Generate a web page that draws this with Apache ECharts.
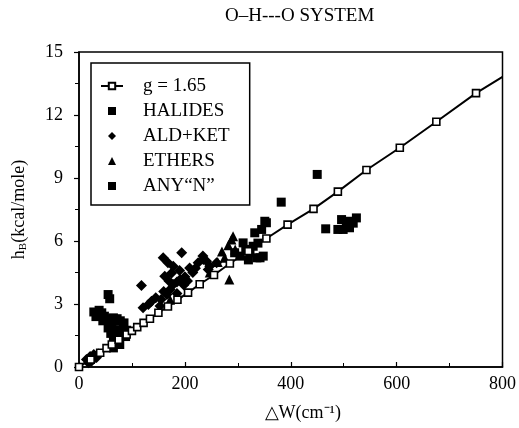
<!DOCTYPE html>
<html>
<head>
<meta charset="utf-8">
<script src="https://cdn.jsdelivr.net/npm/echarts@6/dist/echarts.min.js"></script>
<style>
html,body{margin:0;padding:0;background:#fff;}
#chart{width:519px;height:428px;}
</style>
</head>
<body>
<div id="chart"></div>
<script>
// g = 1.65 curve (open squares)
var fitX = [0, 22, 40, 52, 62, 75, 90, 100, 110, 122, 134, 150, 168, 186, 206, 228, 255, 285, 320, 354, 394, 443, 489, 543, 606, 675, 750, 800];
var fitY = [0, 0.35, 0.68, 0.9, 1.07, 1.3, 1.55, 1.72, 1.9, 2.1, 2.3, 2.58, 2.88, 3.2, 3.54, 3.94, 4.38, 4.93, 5.52, 6.12, 6.78, 7.53, 8.35, 9.38, 10.44, 11.68, 13.04, 13.82];
var fitMarked = [1,1,1,1,1,1,1,1,1,1,1,1,1,1,1,1,1,1,1,1,1,1,1,1,1,1,1,0];

var halidesX = [55, 58, 28, 35, 43, 48, 38, 56, 65, 72, 78, 85, 55, 62, 68, 77, 84, 90, 65, 72, 77, 65, 70, 88, 50, 60, 32, 45];
var halidesY = [3.45, 3.25, 2.62, 2.55, 2.58, 2.42, 2.7, 2.2, 2.34, 2.3, 2.2, 2.1, 1.86, 1.95, 1.78, 1.63, 1.94, 1.75, 1.31, 1.2, 1.07, 0.91, 1.45, 1.45, 2.3, 1.6, 2.4, 2.2];

var aldX = [118, 121, 131, 137, 153, 155, 166, 172, 178, 191, 162, 175, 159, 168, 178, 194, 209, 225, 235, 244, 260, 241, 234, 247, 185, 200, 215, 198, 160, 145, 185, 14, 21, 28, 33, 24, 37, 18, 190, 205, 170, 220];
var aldY = [3.88, 2.82, 2.98, 3.13, 2.9, 3.21, 3.45, 3.69, 3.93, 4.17, 4.32, 4.48, 5.2, 4.96, 4.8, 5.44, 4.72, 4.96, 5.12, 4.64, 4.96, 5.04, 5.28, 4.8, 4.05, 4.3, 4.5, 3.9, 3.6, 3.3, 3.5, 0.36, 0.5, 0.6, 0.45, 0.28, 0.62, 0.2, 4.6, 4.1, 4.1, 4.7];

var ethersX = [284, 288, 282, 270, 291, 172, 247, 275, 295, 262];
var ethersY = [4.17, 6.07, 5.8, 5.5, 6.23, 3.2, 4.5, 5.2, 5.6, 5.0];

var anyNX = [310, 329, 323, 342, 332, 345, 354, 304, 294, 382, 351, 336, 348, 450, 466, 489, 496, 499, 505, 511, 511, 524, 518, 320, 338, 315];
var anyNY = [5.91, 5.75, 5.44, 5.2, 6.39, 6.55, 6.87, 5.28, 5.44, 7.85, 6.94, 5.2, 5.28, 9.17, 6.58, 6.55, 7.02, 6.55, 6.78, 6.94, 6.63, 7.1, 6.85, 5.1, 5.9, 5.6];

var seriesNames = ['g = 1.65', 'HALIDES', 'ALD+KET', 'ETHERS', 'ANY\u201cN\u201d'];
var xTicks = [0, 200, 400, 600, 800];
var yTicks = [0, 3, 6, 9, 12, 15];

function zip(xs, ys) { return xs.map(function (x, i) { return [x, ys[i]]; }); }

var FONT = '"Liberation Serif", "Times New Roman", serif';
var ICON_SQ = 'path://M0,0L10,0L10,10L0,10Z';
var ICON_DI = 'path://M5,0L10,5L5,10L0,5Z';
var ICON_TR = 'path://M5,0L10,10L0,10Z';

var fitData = fitX.map(function (x, i) {
  var d = { value: [x, fitY[i]] };
  if (!fitMarked[i]) d.symbol = 'none';
  return d;
});

var dot = { color: '#000', opacity: 1 };

var chart = echarts.init(document.getElementById('chart'), null, { renderer: 'canvas' });
chart.setOption({
  backgroundColor: '#fff',
  animation: false,
  title: {
    text: 'O\u2013H---O SYSTEM',
    left: 220, top: 2,
    textStyle: { fontFamily: FONT, fontSize: 19, fontWeight: 'normal', color: '#000' }
  },
  grid: {
    left: 79, right: 16, top: 52, bottom: 61,
    show: true, borderColor: '#000', borderWidth: 1.5, backgroundColor: 'transparent'
  },
  legend: {
    orient: 'vertical',
    left: 91, top: 63,
    data: [
      { name: seriesNames[0] },
      { name: seriesNames[1], icon: ICON_SQ },
      { name: seriesNames[2], icon: ICON_DI },
      { name: seriesNames[3], icon: ICON_TR },
      { name: seriesNames[4], icon: ICON_SQ }
    ],
    symbolKeepAspect: true,
    borderColor: '#000', borderWidth: 1.5,
    padding: [13, 20, 9, 9],
    itemWidth: 22, itemHeight: 8, itemGap: 5,
    textStyle: { fontFamily: FONT, fontSize: 19, color: '#000', lineHeight: 20, padding: [0, 0, 0, 15] }
  },
  xAxis: {
    type: 'value', min: 0, max: 800, interval: 200,
    name: '\u25b3W(cm\u207b\u00b9)', nameLocation: 'middle', nameGap: 37,
    nameTextStyle: { fontFamily: FONT, fontSize: 18, color: '#000', padding: [0, 0, 0, 24] },
    axisLine: { lineStyle: { color: '#000', width: 1.5 } },
    axisTick: { inside: true, length: 5, lineStyle: { color: '#000', width: 1.2 } },
    minorTick: { show: true, splitNumber: 2, length: 4, lineStyle: { color: '#000', width: 1 } },
    splitLine: { show: false },
    axisLabel: { fontFamily: FONT, fontSize: 18, color: '#000', margin: 8,
      formatter: function (v) { return xTicks.indexOf(v) >= 0 ? String(v) : ''; } }
  },
  yAxis: {
    type: 'value', min: 0, max: 15, interval: 3,
    name: '{a|h}{b|B}{a|(kcal/mole)}', nameLocation: 'middle', nameGap: 50,
    nameTextStyle: { fontFamily: FONT, fontSize: 18, color: '#000',
      rich: { a: { fontFamily: FONT, fontSize: 18, color: '#000' },
              b: { fontFamily: FONT, fontSize: 11, color: '#000', padding: [8, 0, 0, 0] } } },
    axisLine: { lineStyle: { color: '#000', width: 1.5 } },
    axisTick: { inside: false, length: 5, lineStyle: { color: '#000', width: 1.2 } },
    minorTick: { show: true, splitNumber: 2, length: 4, lineStyle: { color: '#000', width: 1 } },
    splitLine: { show: false },
    axisLabel: { fontFamily: FONT, fontSize: 18, color: '#000', margin: 16,
      formatter: function (v) { return yTicks.indexOf(v) >= 0 ? String(v) : ''; } }
  },
  series: [
    {
      name: seriesNames[0], type: 'line', data: fitData, z: 10,
      symbol: 'rect', symbolSize: 7, showAllSymbol: true,
      lineStyle: { color: '#000', width: 2 },
      itemStyle: { color: '#fff', borderColor: '#000', borderWidth: 1.6 }
    },
    {
      name: seriesNames[1], type: 'scatter', data: zip(halidesX, halidesY), z: 3,
      symbol: 'rect', symbolSize: 9, itemStyle: dot
    },
    {
      name: seriesNames[2], type: 'scatter', data: zip(aldX, aldY), z: 3,
      symbol: 'diamond', symbolSize: 11, itemStyle: dot
    },
    {
      name: seriesNames[3], type: 'scatter', data: zip(ethersX, ethersY), z: 3,
      symbol: 'triangle', symbolSize: 10, itemStyle: dot
    },
    {
      name: seriesNames[4], type: 'scatter', data: zip(anyNX, anyNY), z: 3,
      symbol: 'rect', symbolSize: 9, itemStyle: dot
    }
  ]
});
</script>
</body>
</html>
